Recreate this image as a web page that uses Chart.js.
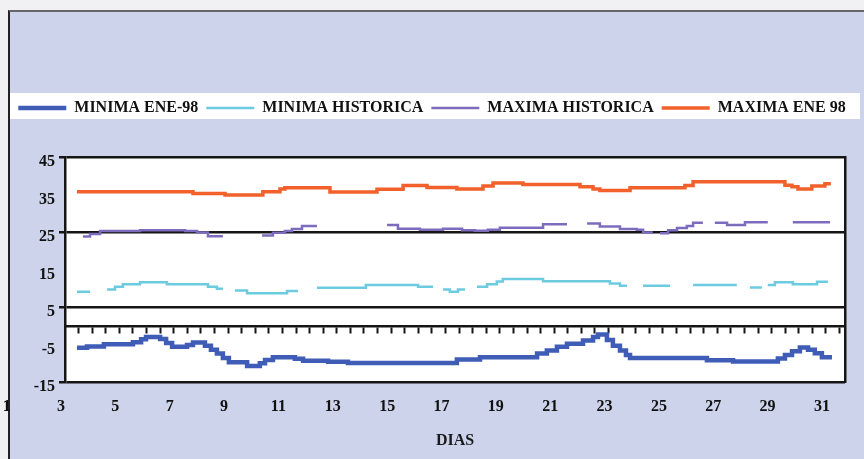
<!DOCTYPE html>
<html>
<head>
<meta charset="utf-8">
<script src="https://cdn.jsdelivr.net/npm/chart.js@4.4.1/dist/chart.umd.min.js"></script>
<style>
  html, body { margin: 0; padding: 0; background: #f1f1f3; }
  #wrap { position: relative; width: 864px; height: 459px; overflow: hidden; }
  #panel {
    position: absolute; left: 8px; top: 10px; right: 0; bottom: 0;
    background: #cdd3ea;
    border-left: 2px solid #222;
    border-top: 2px solid #666;
  }
  #c { position: absolute; left: 0; top: 0; }
</style>
</head>
<body>
<div id="wrap">
  <div id="panel"></div>
  <canvas id="c" width="864" height="459"></canvas>
</div>
<script>
// Axis labels
const dayLabels = [1, 3, 5, 7, 9, 11, 13, 15, 17, 19, 21, 23, 25, 27, 29, 31];
const tempLabels = [-15, -5, 5, 15, 25, 35, 45];
const ruledLevels = [45, 25, 5, -15];

// MINIMA ENE-98 (each value holds until the next day mark)
const minEneDays = [3.44, 3.81, 4.43, 5.50, 5.80, 5.98, 6.50, 6.72, 6.94, 7.49, 7.71, 8.15,
  8.37, 8.59, 8.81, 9.03, 9.70, 10.17, 10.36, 10.65, 11.46, 11.76, 12.68, 13.41,
  17.42, 18.27, 20.37, 20.73, 21.10, 21.47, 22.06, 22.43, 22.61, 22.94, 23.16, 23.42,
  23.64, 23.79, 26.62, 27.58, 29.23, 29.49, 29.75, 30.04, 30.34, 30.59, 30.85, 31.22];
const minEneTemps = [-5.85, -5.5, -4.9, -4.4, -3.6, -3.0, -3.5, -4.6, -5.6, -5.1, -4.45, -5.3,
  -6.4, -7.4, -8.6, -9.7, -10.75, -10.0, -9.1, -8.4, -8.8, -9.3, -9.6, -9.95,
  -9.0, -8.4, -7.4, -6.6, -5.6, -4.8, -3.9, -3.0, -2.3, -3.8, -5.3, -6.6,
  -7.8, -8.6, -9.2, -9.5, -8.7, -7.8, -6.8, -5.8, -6.4, -7.3, -8.4, -8.4];

// MINIMA HISTORICA (null = no record)
const minHistDays = [3.44, 3.92, 4.2, 4.55, 4.84, 5.13, 5.76, 6.75, 8.26, 8.59, 8.81, 9.0,
  9.25, 9.70, 11.17, 11.57, 11.9, 12.27, 14.07, 15.99, 16.54, 16.7,
  16.91, 17.16, 17.46, 17.72, 17.9, 18.16, 18.53, 18.89, 19.11, 20.59, 23.05, 23.42, 23.68, 24.0,
  24.27, 25.26, 25.7, 26.11, 27.72, 28.0, 28.20, 28.64, 28.75,
  28.86, 29.12, 29.78, 30.67, 31.07];
const minHistTemps = [9.1, 9.1, null, 9.7, 10.4, 11.05, 11.6, 11.05, 10.4, 9.9, 9.9, null,
  9.4, 8.65, 9.3, 9.3, null, 10.15, 10.85, 10.4, 10.4, null,
  9.7, 9.1, 9.7, 9.7, null, 10.4, 11.05, 11.8, 12.5, 11.9, 11.3, 10.7, 10.7, null,
  10.7, 10.7, null, 10.85, 10.85, null, 10.2, 10.2, null,
  10.85, 11.6, 11.05, 11.75, 11.75];

// MAXIMA HISTORICA (null = no record)
const maxHistDays = [3.66, 3.92, 4.29, 5.76, 7.42, 7.86, 8.26, 8.81, 9.5,
  10.25, 10.65, 11.09, 11.35, 11.72, 12.27, 13.5,
  14.85, 15.25, 16.06, 16.91, 17.61, 18.08, 18.56, 19.00, 20.59, 21.47, 21.8,
  22.21, 22.68, 23.42, 24.04, 24.27, 24.63, 24.75,
  24.89, 25.19, 25.52, 25.88, 26.11, 26.47, 26.7,
  26.91, 27.36, 28.02, 28.86, 29.3, 29.78, 31.15];
const maxHistTemps = [23.8, 24.5, 25.3, 25.5, 25.3, 24.9, 23.9, 23.9, null,
  24.1, 24.8, 25.3, 25.8, 26.6, 26.6, null,
  26.9, 25.9, 25.6, 25.9, 25.5, 25.35, 25.6, 26.15, 27.1, 27.1, null,
  27.3, 26.5, 25.8, 25.6, 24.9, 24.9, null,
  24.7, 25.5, 26.1, 26.6, 27.5, 27.5, null,
  27.5, 26.9, 27.6, 27.6, null, 27.6, 27.6];

// MAXIMA ENE 98
const maxEneDays = [3.44, 7.71, 8.89, 10.28, 10.91, 11.09, 12.75, 14.48, 15.44, 16.32, 17.42, 18.38,
  18.75, 19.85, 21.95, 22.43, 22.68, 23.79, 25.81, 26.11, 29.49, 29.75, 29.97, 30.48, 30.96, 31.18];
const maxEneTemps = [35.75, 35.3, 34.9, 35.75, 36.5, 36.8, 35.7, 36.4, 37.4, 36.9, 36.5, 37.3,
  38.1, 37.7, 37.1, 36.5, 36.1, 36.8, 37.4, 38.4, 37.5, 37.1, 36.5, 37.3, 37.9, 37.9];

const pts = (xs, ys) => xs.map((x, i) => ({ x: x, y: ys[i] }));

// small tick marks on the zero line, every half day
const halfDays = [];
for (let d = 3.5; d <= 31.5; d += 0.5) halfDays.push(d);

const ink = '#151515';
const serif = '"Liberation Serif", "Times New Roman", serif';
const boldFont = { family: serif, size: 16, weight: 'bold' };
const legendBlock = 65;

const paper = {
  id: 'paper',
  beforeLayout(chart) {
    const lg = chart.legend;
    if (lg && !lg._stretched) {
      const fit = lg.fit;
      lg.fit = function () { fit.call(this); this.height = legendBlock; };
      lg._stretched = true;
    }
  },
  beforeDraw(chart) {
    const { ctx, chartArea: a, legend } = chart;
    ctx.save();
    ctx.fillStyle = '#ffffff';
    const mid = legend.top + legend.options.labels.padding + 8;
    ctx.fillRect(10, mid - 15, chart.width - 14, 26);
    ctx.fillRect(a.left, a.top, a.right - a.left, a.bottom - a.top);
    ctx.restore();
  }
};

const line = (label, data, color, width) => ({
  label: label,
  data: data,
  borderColor: color,
  backgroundColor: color,
  borderWidth: width,
  stepped: true,
  spanGaps: false,
  pointRadius: 0,
  fill: false
});

new Chart(document.getElementById('c'), {
  type: 'line',
  data: {
    datasets: [
      line('MINIMA ENE-98', pts(minEneDays, minEneTemps), '#3f5cb6', 4.5),
      line('MINIMA HISTORICA', pts(minHistDays, minHistTemps), '#6ccbe0', 2.5),
      line('MAXIMA HISTORICA', pts(maxHistDays, maxHistTemps), '#7d6cbd', 2.5),
      line('MAXIMA ENE 98', pts(maxEneDays, maxEneTemps), '#f2602b', 3.5)
    ]
  },
  options: {
    responsive: false,
    animation: false,
    layout: { padding: { top: 92, left: 0, right: 0, bottom: 0 } },
    plugins: {
      legend: {
        position: 'top',
        labels: {
          usePointStyle: true,
          pointStyle: 'line',
          pointStyleWidth: 48,
          padding: 8,
          color: '#111',
          font: boldFont
        }
      },
      tooltip: { enabled: false }
    },
    scales: {
      x: {
        type: 'linear',
        min: 3,
        max: 31.7,
        position: 'bottom',
        grid: { display: false, drawTicks: false },
        border: { display: false },
        ticks: {
          padding: 15,
          labelOffset: -4,
          color: '#111',
          font: boldFont,
          autoSkip: false,
          maxRotation: 0,
          callback: v => String(v)
        },
        afterBuildTicks: s => { s.ticks = dayLabels.map(v => ({ value: v })); },
        afterFit: s => { s.height = 77; s.paddingLeft = 0; s.paddingRight = 0; },
        title: {
          display: true,
          text: 'DIAS',
          color: '#1a1a1a',
          font: boldFont,
          padding: { top: 0, bottom: 9 }
        }
      },
      x0: {
        type: 'linear',
        min: 3,
        max: 31.7,
        position: { y: 0 },
        ticks: { display: false },
        afterBuildTicks: s => { s.ticks = halfDays.map(v => ({ value: v })); },
        grid: { drawOnChartArea: false, drawTicks: true, tickLength: 6, tickWidth: 2, color: ink },
        border: { color: ink, width: 2.5 }
      },
      y: {
        min: -15,
        max: 45,
        position: 'left',
        afterBuildTicks: s => { s.ticks = tempLabels.map(v => ({ value: v })); },
        afterFit: s => { s.width = 65; },
        ticks: { padding: 4, labelOffset: 5, color: '#111', font: boldFont },
        grid: {
          color: c => (c.tick && ruledLevels.includes(c.tick.value)) ? ink : 'rgba(0,0,0,0)',
          lineWidth: 2.5,
          tickLength: 6
        },
        border: { color: ink, width: 2.5 }
      },
      yR: {
        min: -15,
        max: 45,
        position: 'right',
        ticks: { display: false },
        grid: { display: false, drawTicks: false },
        border: { color: ink, width: 2.5 },
        afterFit: s => { s.width = 19; }
      }
    }
  },
  plugins: [paper]
});
</script>
</body>
</html>
